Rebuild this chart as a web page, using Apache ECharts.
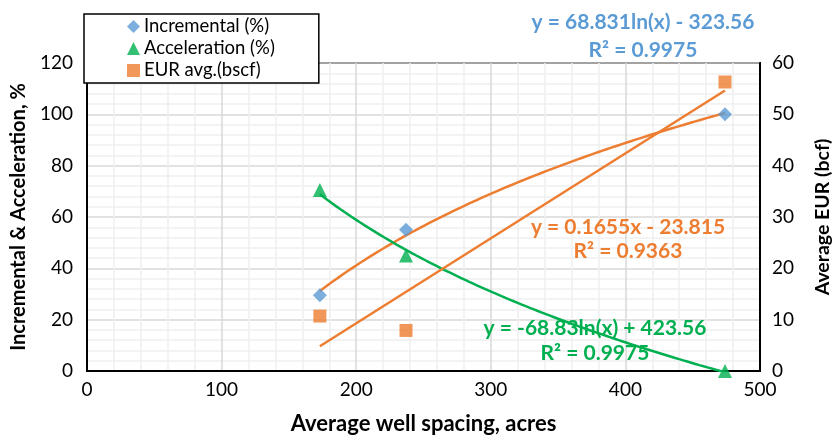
<!DOCTYPE html>
<html><head><meta charset="utf-8">
<script src="https://cdn.jsdelivr.net/npm/echarts@6/dist/echarts.min.js"></script>
<style>html,body{margin:0;padding:0;background:#fff}#c{width:835px;height:436px}</style>
</head><body><div id="c"></div>
<script>
// ---- data ----
const spacing = [173, 237, 474];
const incremental = [29.5, 55, 100];
const acceleration = [70.5, 45, 0];
const eurAvg = [10.7, 7.9, 56.3];
// trendline coefficients as displayed on the chart
const incLogCoef = [68.831, -323.56];   // y = a ln(x) + b
const accLogCoef = [-68.83, 423.56];
const eurLinCoef = [0.1655, -23.815];   // y = a x + b
const trendRange = [173, 474];

const xTicks = [0, 100, 200, 300, 400, 500];
const leftTicks = [0, 20, 40, 60, 80, 100, 120];
const rightTicks = [0, 10, 20, 30, 40, 50, 60];

function logTrend(c){const o=[];for(let x=trendRange[0];x<=trendRange[1];x+=3){o.push([x,c[0]*Math.log(x)+c[1]]);}o.push([trendRange[1],c[0]*Math.log(trendRange[1])+c[1]]);return o;}
function linTrend(c){return trendRange.map(x=>[x,c[0]*x+c[1]]);}

const BLUE='#5B9BD5', ORANGE='#ED7D31', GREEN='#00B050';
const FONT='Lato';
const chart = echarts.init(document.getElementById('c'));
chart.setOption({
  animation:false,
  textStyle:{fontFamily:FONT},
  grid:{left:87,right:75,top:63,bottom:65,show:true,borderColor:'#000',borderWidth:2,backgroundColor:'transparent',outerBoundsMode:'none',containLabel:false},
  legend:{
    orient:'vertical',left:84,top:14,
    data:['Incremental (%)','Acceleration (%)','EUR avg.(bscf)'],
    backgroundColor:'#fff',borderColor:'#000',borderWidth:1.5,
    padding:[3,44,3,43],itemGap:3,itemWidth:13,itemHeight:13,
    textStyle:{fontSize:18.5,color:'#000',fontFamily:FONT,padding:[0,0,0,-1]}
  },
  xAxis:{type:'value',min:xTicks[0],max:xTicks[xTicks.length-1],interval:100,
    name:'Average well spacing, acres',nameLocation:'middle',nameGap:42,
    nameTextStyle:{fontSize:22,fontWeight:'bold',color:'#000'},
    axisLine:{lineStyle:{color:'#000',width:2}},axisTick:{show:false},
    axisLabel:{fontSize:19,color:'#000',margin:9},
    splitLine:{lineStyle:{color:'#d9d9d9',width:1.5}},
    minorTick:{show:false,splitNumber:5},
    minorSplitLine:{show:true,lineStyle:{color:'#efefef',width:1.5}}
  },
  yAxis:[
    {type:'value',min:leftTicks[0],max:leftTicks[leftTicks.length-1],interval:20,
     name:'Incremental & Acceleration, %',nameLocation:'middle',nameGap:58,nameRotate:90,
     nameTextStyle:{fontSize:20,fontWeight:'bold',color:'#000'},
     axisLine:{show:true,lineStyle:{color:'#000',width:2}},axisTick:{show:false},
     axisLabel:{fontSize:19,color:'#000',margin:14},
     splitLine:{lineStyle:{color:'#d9d9d9',width:1.5}},
     minorTick:{show:false,splitNumber:5},
     minorSplitLine:{show:true,lineStyle:{color:'#efefef',width:1.5}}
    },
    {type:'value',min:rightTicks[0],max:rightTicks[rightTicks.length-1],interval:10,position:'right',
     name:'Average EUR (bcf)',nameLocation:'middle',nameGap:53,nameRotate:90,
     nameTextStyle:{fontSize:19.5,fontWeight:'bold',color:'#000'},
     axisLine:{show:true,lineStyle:{color:'#000',width:2}},axisTick:{show:false},
     axisLabel:{fontSize:19,color:'#000',margin:12},
     splitLine:{show:false}
    }
  ],
  series:[
    {name:'inc trend',type:'line',data:logTrend(incLogCoef),showSymbol:false,
     lineStyle:{color:ORANGE,width:2.5},z:3,silent:true},
    {name:'acc trend',type:'line',data:logTrend(accLogCoef),showSymbol:false,
     lineStyle:{color:GREEN,width:2.5},z:3,silent:true},
    {name:'eur trend',type:'line',yAxisIndex:1,data:linTrend(eurLinCoef),showSymbol:false,
     lineStyle:{color:ORANGE,width:2.5},z:3,silent:true},
    {name:'Incremental (%)',type:'scatter',symbol:'diamond',symbolSize:14,
     data:spacing.map((x,i)=>[x,incremental[i]]),itemStyle:{color:BLUE},z:4},
    {name:'Acceleration (%)',type:'scatter',symbol:'triangle',symbolSize:14,
     data:spacing.map((x,i)=>[x,acceleration[i]]),itemStyle:{color:GREEN},z:4},
    {name:'EUR avg.(bscf)',type:'scatter',symbol:'rect',symbolSize:13,yAxisIndex:1,
     data:spacing.map((x,i)=>[x,eurAvg[i]]),itemStyle:{color:ORANGE},z:4}
  ],
  graphic:[
    {type:'text',x:643,y:36,style:{text:'y = 68.831ln(x) - 323.56\nR² = 0.9975',fill:BLUE,font:'bold 21px '+FONT,align:'center',verticalAlign:'middle',lineHeight:28},z:10},
    {type:'text',x:628,y:239,style:{text:'y = 0.1655x - 23.815\nR² = 0.9363',fill:ORANGE,font:'bold 21px '+FONT,align:'center',verticalAlign:'middle',lineHeight:24},z:10},
    {type:'text',x:595,y:341,style:{text:'y = -68.83ln(x) + 423.56\nR² = 0.9975',fill:GREEN,font:'bold 21px '+FONT,align:'center',verticalAlign:'middle',lineHeight:25},z:10}
  ]
});
</script></body></html>
